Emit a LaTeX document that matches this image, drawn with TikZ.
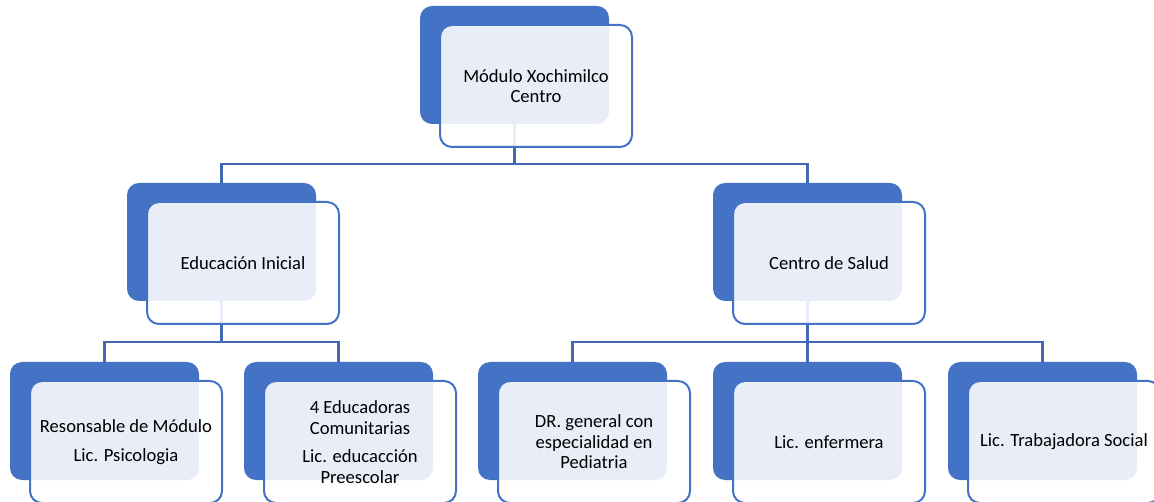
\documentclass[tikz,border=0pt]{standalone}
\usepackage{fontspec}
\setmainfont{Carlito}
\definecolor{blu}{HTML}{4472C4}
\definecolor{conn}{HTML}{4169B5}
\tikzset{
  backbox/.style={rectangle, rounded corners=12pt, fill=blu, minimum width=189pt, minimum height=118pt, inner sep=0pt, outer sep=0pt, anchor=north west},
  frontbox/.style={rectangle, rounded corners=12pt, draw=blu, line width=2pt, fill=white, fill opacity=0.88, text opacity=1, minimum width=192pt, minimum height=122pt, inner sep=2pt, outer sep=0pt, anchor=north west, align=center, font=\fontsize{18.6}{20.5}\selectfont},
  link/.style={draw=conn, line width=2.4pt}
}
\begin{document}
\begin{tikzpicture}[x=1pt,y=-1pt]
\useasboundingbox (0,0) rectangle (1154,502);
% back boxes
\node[backbox] (b0) at (420,6) {};
\node[backbox] (b1) at (127,183) {};
\node[backbox] (b2) at (713,183) {};
\node[backbox] (b11) at (10,362) {};
\node[backbox] (b12) at (244,362) {};
\node[backbox] (b21) at (478,362) {};
\node[backbox] (b22) at (713,362) {};
\node[backbox] (b23) at (948,362) {};
% connector levels
\coordinate (ya) at (0,164);
\coordinate (yb) at (0,342);
% connectors
\draw[link] (b0.south) -- (b0.south |- ya);
\draw[link] (b1.north) -- (b1.north |- ya) -- (b2.north |- ya) -- (b2.north);
\draw[link] (b1.south) -- (b1.south |- yb);
\draw[link] (b11.north) -- (b11.north |- yb) -- (b12.north |- yb) -- (b12.north);
\draw[link] (b2.south) -- (b2.south |- yb);
\draw[link] (b21.north) -- (b21.north |- yb) -- (b23.north |- yb) -- (b23.north);
\draw[link] (b22.north |- yb) -- (b22.north);
% front boxes
\node[frontbox] (f0) at (440,25) {Módulo Xochimilco\\Centro};
\node[frontbox] (f1) at (147,202) {Educación Inicial};
\node[frontbox] (f2) at (733,202) {Centro de Salud};
\node[frontbox] (f11) at (30,381) {Resonsable de Módulo\\[8pt]Lic. Psicologia};
\node[frontbox] (f12) at (264,381) {4 Educadoras\\Comunitarias\\[8pt]Lic. educacción\\Preescolar};
\node[frontbox] (f21) at (498,381) {DR. general con\\especialidad en\\Pediatria};
\node[frontbox] (f22) at (733,381) {Lic. enfermera};
\node[frontbox] (f23) at (968,381) {Lic. Trabajadora Social};
\end{tikzpicture}
\end{document}
